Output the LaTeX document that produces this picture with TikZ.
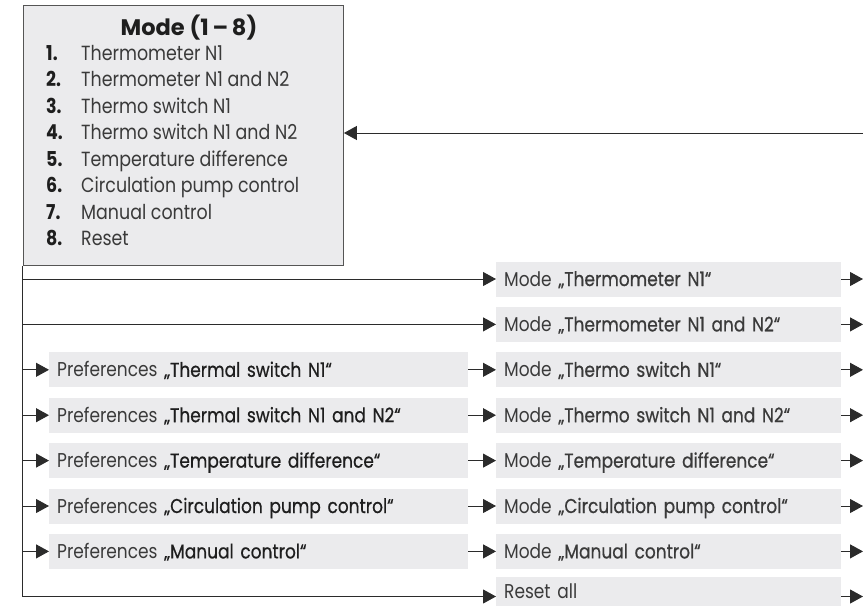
\documentclass[tikz,border=0pt]{standalone}
\usepackage{fontspec}
\setmainfont{Poppins}[FakeStretch=0.85]
\newfontfamily\medfont{Poppins}[FakeStretch=0.85,FakeBold=0.6]
\newfontfamily\ttlfont{Poppins}
\usetikzlibrary{arrows.meta}
\definecolor{boxfill}{HTML}{EBEBED}
\definecolor{linecol}{HTML}{2B2B2B}
\definecolor{txt}{HTML}{1E1E1E}
\definecolor{lite}{HTML}{3A3A3A}
\tikzset{
  conn/.style={draw=linecol, line width=1pt},
  arr/.style={conn, -{Triangle[length=13pt,width=14pt]}},
  modebox/.style={draw=linecol!80, fill=boxfill, line width=0.9pt, minimum width=320.5pt, minimum height=260pt, inner sep=0pt},
  rowbox/.style={fill=boxfill, minimum height=35pt, inner ysep=0pt, inner xsep=8pt, text height=17pt, text depth=3pt, align=left, anchor=west, text=txt, font=\fontsize{20}{22}\selectfont},
  item/.style={inner sep=0pt, text=lite, font=\fontsize{20.5}{22}\selectfont, anchor=base west},
  num/.style={inner sep=0pt, text=txt, font=\fontsize{20.5}{22}\selectfont\bfseries, anchor=base west},
  ttl/.style={inner sep=0pt, text=txt, font=\ttlfont\fontsize{22.5}{24}\selectfont\bfseries, anchor=base}
}
\newcommand{\lt}[1]{\textcolor{lite}{#1}}
\newcommand{\md}[1]{{\medfont #1}}
\begin{document}
\begin{tikzpicture}[x=1pt,y=-1pt]
\useasboundingbox (0,0) rectangle (863,606);
% mode box
\node[modebox, anchor=north west] (mode) at (22.5,5) {};
\node[ttl] (title) at (189,35) {Mode (1\,–\,8)};
\foreach \i/\t in {1/Thermometer N1, 2/Thermometer N1 and N2, 3/Thermo switch N1, 4/Thermo switch N1 and N2, 5/Temperature difference, 6/Circulation pump control, 7/Manual control, 8/Reset}{
  \node[num] (n\i) at (46,{60+26.5*(\i-1)}) {\i.};
  \node[item] (t\i) at (81,{60+26.5*(\i-1)}) {\t};
}
% mode rows
\foreach \i/\t/\y in {1/Mode \md{„Thermometer N1“}/279, 2/Mode \md{„Thermometer N1 and N2“}/324.4, 3/Mode \md{„Thermo switch N1“}/369.8, 4/Mode \md{„Thermo switch N1 and N2“}/415.2, 5/Mode \md{„Temperature difference“}/460.6, 6/Mode \md{„Circulation pump control“}/506, 7/Mode \md{„Manual control“}/551.4}{
  \node[rowbox, text width=329pt] (m\i) at (496,\y) {\lt{\t}};
  \coordinate (o\i) at (863,\y);
  \draw[arr] (m\i.east) -- (o\i);
}
% last row, cut by the lower edge
\node[rowbox, text width=329pt, minimum height=29pt, text height=15pt, text depth=1pt] (m8) at (496,591.5) {\lt{Reset all}};
\coordinate (m8in) at (496,596.5);
\coordinate (m8out) at (841,596.5);
\coordinate (o8) at (863,596.5);
\draw[arr] (m8out) -- (o8);
% preference rows
\coordinate (pl) at (49,0);
\foreach \i/\t in {3/Thermal switch N1, 4/Thermal switch N1 and N2, 5/Temperature difference, 6/Circulation pump control, 7/Manual control}{
  \node[rowbox, text width=403pt] (p\i) at (pl |- m\i.west) {\lt{Preferences} \md{„\t“}};
  \draw[arr] (mode.south west |- p\i.west) -- (p\i.west);
  \draw[arr] (p\i.east) -- (m\i.west);
}
% spine
\draw[arr] (mode.south west) |- (m8in);
\draw[arr] (mode.south west |- m1.west) -- (m1.west);
\draw[arr] (mode.south west |- m2.west) -- (m2.west);
% feedback arrow
\coordinate (fin) at (863,133);
\draw[arr] (fin) -- (mode.east |- fin);
\end{tikzpicture}
\end{document}
